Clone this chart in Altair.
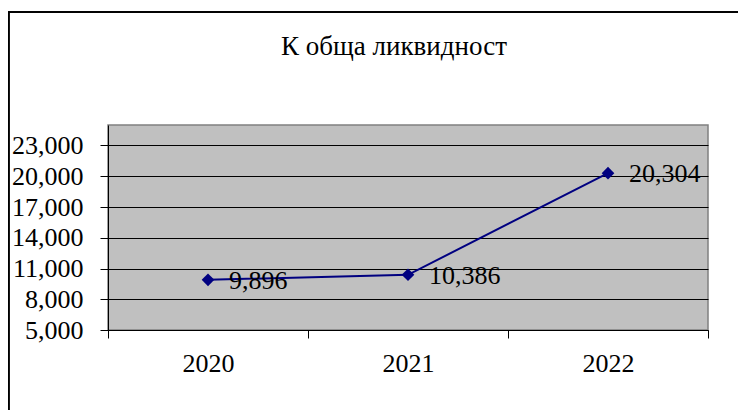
import altair as alt
import pandas as pd

years = ["2020", "2021", "2022"]
values = [9896, 10386, 20304]
y_ticks = [5000, 8000, 11000, 14000, 17000, 20000, 23000]
title_text = "К обща ликвидност"

df = pd.DataFrame({"year": years, "value": values})

FONT = "Liberation Serif"
FS = 26

x_enc = alt.X(
    "year:N",
    sort=years,
    scale=alt.Scale(paddingInner=0, paddingOuter=0),
    axis=alt.Axis(
        title=None, labelAngle=0, tickBand="extent", domainColor="black",
        tickColor="black", tickSize=8, labelPadding=12, labelFont=FONT,
        labelFontSize=FS, labelColor="black", grid=False,
    ),
)
y_enc = alt.Y(
    "value:Q",
    scale=alt.Scale(domain=[5000, 25000], nice=False, zero=False),
    axis=alt.Axis(
        title=None, values=y_ticks, tickCount=20, format=",.0f", domainColor="black",
        tickColor="black", tickSize=8, labelPadding=17, labelFont=FONT,
        labelFontSize=FS, labelColor="black", grid=True, gridColor="black",
        gridOpacity=1, gridWidth=1, labelOverlap=False, labelBound=False,
        labelFlush=False,
    ),
)

frame = alt.Chart(df).mark_rect(
    fill=None, stroke="black", strokeWidth=1.5, clip=False
).encode(
    x=alt.value(-99.2), x2=alt.value(900), y=alt.value(-113), y2=alt.value(600)
)

line = alt.Chart(df).mark_line(color="#000080", strokeWidth=2).encode(x=x_enc, y=y_enc)
pts = alt.Chart(df).mark_point(
    shape="diamond", filled=True, color="#000080", size=160, opacity=1
).encode(x=alt.X("year:N", sort=years), y="value:Q")
labels = alt.Chart(df).mark_text(
    align="left", baseline="middle", dx=21, dy=1, font=FONT, fontSize=FS, color="black"
).encode(x=alt.X("year:N", sort=years), y="value:Q", text=alt.Text("value:Q", format=",.0f"))

chart = alt.layer(frame, line, pts, labels).properties(
    width=600,
    height=205,
    padding={"left": 100, "top": 117, "right": 30, "bottom": 80},
    autosize=alt.AutoSizeParams(type="none"),
    title=alt.TitleParams(
        text=title_text, font=FONT, fontSize=27, fontWeight="normal",
        color="black", anchor="middle", dx=-14, offset=-50, frame="group",
    ),
).configure(background="white").configure_view(
    fill="#C0C0C0", stroke="#808080", strokeWidth=1.5
)

chart.save("out.html", embed_options={"renderer": "svg", "actions": False})
